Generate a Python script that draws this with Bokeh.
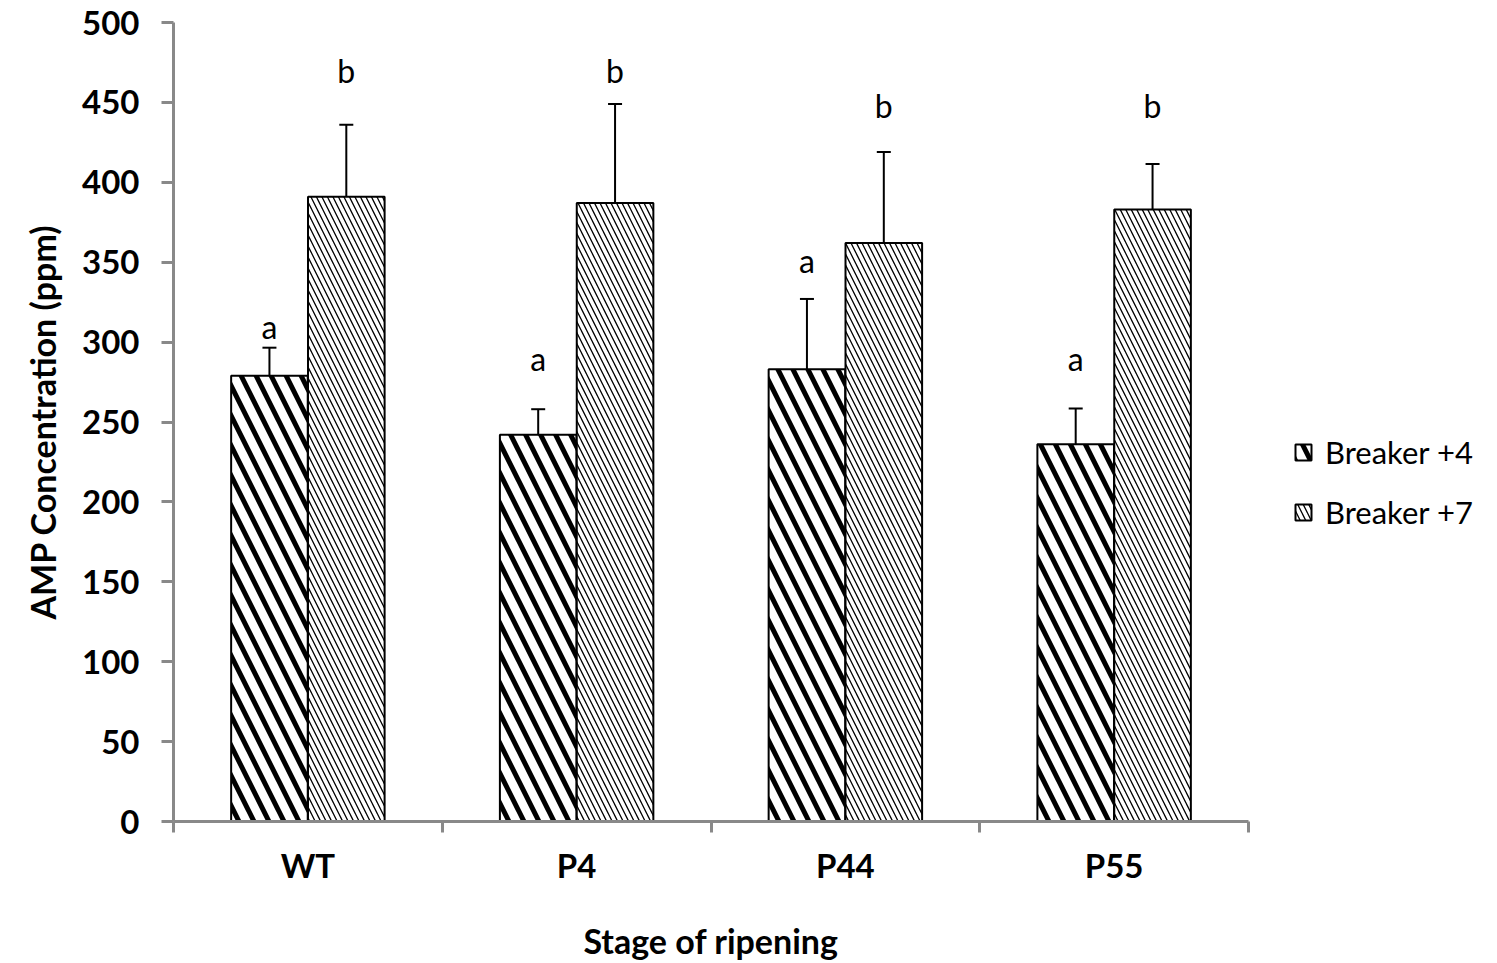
from bokeh.plotting import figure
from bokeh.layouts import row
from bokeh.models import (ColumnDataSource, Range1d, LinearAxis, FixedTicker, Whisker,
                          TeeHead, Legend, LegendItem)
from bokeh.embed import file_html
from bokeh.resources import INLINE
from bokeh.core.properties import value

categories = ["WT", "P4", "P44", "P55"]
series_names = ["Breaker +4", "Breaker +7"]
breaker4 = [279, 242, 283, 236]
breaker4_err = [17.5, 16, 44, 22.5]
breaker7 = [391, 387, 362, 383]
breaker7_err = [45, 62, 57, 28.5]
letters4 = ["a", "a", "a", "a"]
letters4_y = [310, 290, 351, 290]
letters7 = ["b", "b", "b", "b"]
letters7_y = [470, 470, 448, 448]
y_ticks = [0, 50, 100, 150, 200, 250, 300, 350, 400, 450, 500]

FONT = "Lato"
GREY = "#898989"
off = 0.143
bw = 0.285
STYLE4 = dict(fill_color="white", line_color="black", line_width=2, hatch_pattern="\\",
              hatch_scale=30, hatch_weight=5, hatch_color="black")
STYLE7 = dict(fill_color="white", line_color="black", line_width=2, hatch_pattern="\\",
              hatch_scale=11, hatch_weight=1.3, hatch_color="black")

centers = [i + 0.5 for i in range(len(categories))]
x4 = [c - off for c in centers]
x7 = [c + off for c in centers]

src4 = ColumnDataSource(dict(x=x4, top=breaker4,
                             upper=[v + e for v, e in zip(breaker4, breaker4_err)],
                             lower=[v - e for v, e in zip(breaker4, breaker4_err)],
                             lab=letters4, ly=letters4_y))
src7 = ColumnDataSource(dict(x=x7, top=breaker7,
                             upper=[v + e for v, e in zip(breaker7, breaker7_err)],
                             lower=[v - e for v, e in zip(breaker7, breaker7_err)],
                             lab=letters7, ly=letters7_y))

p = figure(width=1250, height=963, output_backend="svg", toolbar_location=None,
           x_range=Range1d(0, len(categories)), y_range=Range1d(0, 500),
           x_axis_type=None, min_border_left=173, min_border_right=2,
           min_border_top=22, min_border_bottom=140)
p.outline_line_color = None
p.xgrid.visible = False
p.ygrid.visible = False
p.background_fill_color = "white"
p.border_fill_color = "white"

p.vbar(x="x", top="top", width=bw, source=src4, **STYLE4)
p.vbar(x="x", top="top", width=bw, source=src7, **STYLE7)

for s in (src4, src7):
    w = Whisker(source=s, base="x", upper="upper", lower="lower", line_color="black",
                line_width=2,
                upper_head=TeeHead(size=14, line_width=2, line_color="black"),
                lower_head=TeeHead(size=14, line_width=2, line_color="black"))
    p.add_layout(w)
    p.text(x="x", y="ly", text="lab", source=s, text_align="center",
           text_baseline="middle", text_font=value(FONT), text_font_size="32px",
           text_color="black")

# y axis
yax = p.yaxis[0]
yax.ticker = FixedTicker(ticks=y_ticks)
yax.axis_line_color = GREY
yax.axis_line_width = 3
yax.major_tick_line_color = GREY
yax.major_tick_line_width = 3
yax.major_tick_out = 12
yax.major_tick_in = 0
yax.minor_tick_line_color = None
yax.major_label_text_font = FONT
yax.major_label_text_font_style = "bold"
yax.major_label_text_font_size = "33px"
yax.major_label_text_color = "black"
yax.major_label_standoff = 22
yax.axis_label = "AMP Concentration (ppm)"
yax.axis_label_text_font = FONT
yax.axis_label_text_font_style = "bold"
yax.axis_label_text_font_size = "34px"
yax.axis_label_text_color = "black"
yax.axis_label_standoff = 16

# x axis with ticks at category boundaries
xax = LinearAxis(ticker=FixedTicker(ticks=list(range(len(categories) + 1))),
                 major_label_overrides={i: "" for i in range(len(categories) + 1)},
                 major_label_text_font_size="1px", major_label_standoff=0,
                 axis_line_color=GREY, axis_line_width=3,
                 major_tick_line_color=GREY, major_tick_line_width=3,
                 major_tick_out=11, major_tick_in=0, minor_tick_line_color=None)
p.add_layout(xax, "below")

xlab = LinearAxis(ticker=FixedTicker(ticks=centers),
                  major_label_overrides={c: n for c, n in zip(centers, categories)},
                  axis_line_color=None, major_tick_line_color=None,
                  minor_tick_line_color=None, major_tick_out=0, major_tick_in=0,
                  major_label_text_font=FONT, major_label_text_font_style="bold",
                  major_label_text_font_size="33px", major_label_text_color="black",
                  major_label_standoff=12,
                  axis_label="Stage of ripening", axis_label_text_font=FONT,
                  axis_label_text_font_style="bold", axis_label_text_font_size="34px",
                  axis_label_text_color="black", axis_label_standoff=32)
p.add_layout(xlab, "below")

# legend panel: hidden copies of the bar series feed the legend swatches
q = figure(width=247, height=963, output_backend="svg", toolbar_location=None,
           x_range=Range1d(0, len(categories)), y_range=Range1d(0, 500),
           x_axis_type=None, y_axis_type=None, min_border=0)
q.outline_line_color = None
q.xgrid.visible = False
q.ygrid.visible = False
q.border_fill_color = "white"
q.background_fill_color = "white"
l4 = q.vbar(x="x", top="top", width=bw, source=ColumnDataSource(dict(x=x4, top=breaker4)),
            visible=False, **STYLE4)
l7 = q.vbar(x="x", top="top", width=bw, source=ColumnDataSource(dict(x=x7, top=breaker7)),
            visible=False, **STYLE7)

legend = Legend(items=[LegendItem(label=series_names[0], renderers=[l4]),
                       LegendItem(label=series_names[1], renderers=[l7])],
                location=(43, 290), label_text_font=FONT, label_text_color="black",
                label_text_font_size="31px", glyph_width=20, glyph_height=20,
                spacing=22, border_line_color=None, background_fill_alpha=0,
                inactive_fill_alpha=0, label_standoff=12, padding=0, margin=0)
q.add_layout(legend, "center")

layout = row(p, q, spacing=0)
open("out.html", "w").write(file_html(layout, INLINE))
